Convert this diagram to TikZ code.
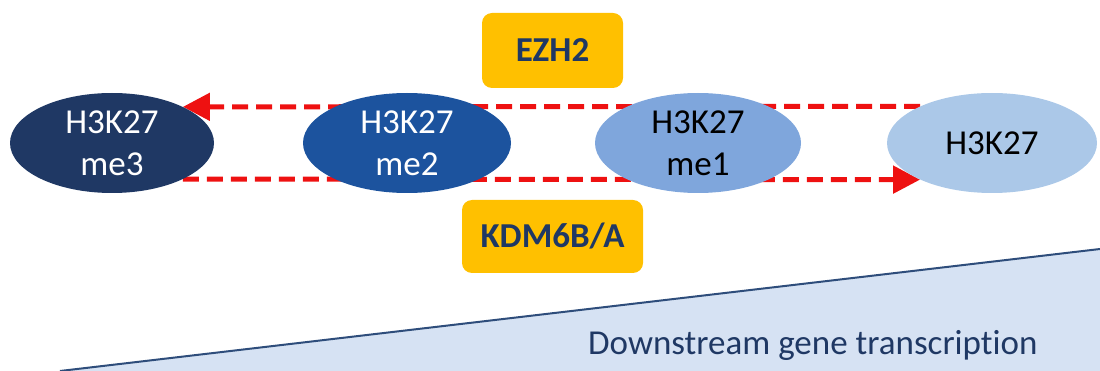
\documentclass[tikz,border=0pt]{standalone}
\usepackage{fontspec}
\setmainfont[Ligatures=NoCommon]{Carlito}
\usetikzlibrary{arrows.meta,shapes.geometric,backgrounds}
\definecolor{navy}{HTML}{1F3864}
\definecolor{cthree}{HTML}{1F3864}
\definecolor{ctwo}{HTML}{1C539E}
\definecolor{cone}{HTML}{7FA6DC}
\definecolor{czero}{HTML}{ABC8E8}
\definecolor{arrred}{HTML}{EE1111}
\definecolor{enzfill}{HTML}{FFC000}
\definecolor{trifill}{HTML}{D6E2F3}
\definecolor{triline}{HTML}{2E4D7B}
\begin{document}
\begin{tikzpicture}[x=1pt,y=-1pt,
  blob/.style={ellipse,inner sep=0pt,minimum height=100pt,align=center,
    font=\fontsize{35}{42}\selectfont},
  enz/.style={fill=enzfill,rounded corners=10pt,text=navy,inner sep=0pt,
    font=\fontsize{35}{42}\selectfont\bfseries},
  dasharrow/.style={draw=arrred,line width=5pt,dash pattern=on 16pt off 8pt,
    -{Triangle[length=27pt,width=27pt]}}]
\useasboundingbox (0,0) rectangle (1100,371);
% ellipses
\node[blob,fill=cthree,text=white,minimum width=204pt] (me3) at (112,143) {H3K27\\me3};
\node[blob,fill=ctwo,text=white,minimum width=208pt] (me2) at (407,143) {H3K27\\me2};
\node[blob,fill=cone,text=black,minimum width=206pt] (me1) at (698,143) {H3K27\\me1};
\node[blob,fill=czero,text=black,minimum width=210pt] (h0) at (992,143) {H3K27};
% enzymes
\node[enz,minimum width=141pt,minimum height=75pt] (ezh) at (552.5,50.5) {EZH2};
\node[enz,minimum width=181pt,minimum height=73pt] (kdm) at (552.5,236.5) {KDM6B/A};
% label
\node[anchor=base west,text=navy,inner sep=0pt,font=\fontsize{35}{42}\selectfont] (ds) at (588,354) {Downstream gene transcription};
\begin{pgfonlayer}{background}
\fill[trifill] (60,371) -- (1100,249) -- (1100,371) -- cycle;
\draw[triline,line width=2pt] (60,371) -- (1100,249);
\draw[dasharrow] (h0.153.7) -- (me3.27);
\draw[dasharrow] (me3.-27) -- (h0.-153.7);
\end{pgfonlayer}
\end{tikzpicture}
\end{document}
